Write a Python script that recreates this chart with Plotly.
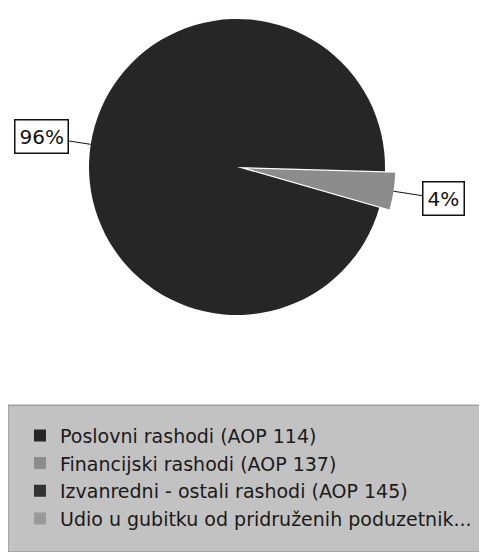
import math
import plotly.graph_objects as go

# expense categories (legend order) and their shares
labels = [
    "Poslovni rashodi (AOP 114)",
    "Financijski rashodi (AOP 137)",
    "Izvanredni - ostali rashodi (AOP 145)",
    "Udio u gubitku od pridruženih poduzetnik...",
]
shares = [96, 4, 0, 0]

SLICE_COLORS = ["#262626", "#8c8c8c", "#333333", "#9a9a9a"]
PULLS = [0, 0.07, 0, 0]
LEGEND_BG = "#c2c2c2"
FONT = "DejaVu Sans, Verdana, sans-serif"

W, H = 479, 544
ROTATION = 106          # degrees clockwise from 12 o'clock
PIE_CX, PIE_CY, PIE_R = 229, 159, 148   # pixel geometry of the pie
half = PIE_R * (1 + max(PULLS))


def clamp(v):
    return min(1.0, max(0.0, v))


fig = go.Figure(go.Pie(
    labels=labels,
    values=shares,
    sort=False,
    direction="clockwise",
    rotation=ROTATION,
    pull=PULLS,
    marker=dict(colors=SLICE_COLORS, line=dict(width=0)),
    textinfo="none",
    domain=dict(
        x=[clamp((PIE_CX - half) / W), clamp((PIE_CX + half) / W)],
        y=[clamp(1 - (PIE_CY + half) / H), clamp(1 - (PIE_CY - half) / H)],
    ),
    hoverinfo="label+percent",
))

# boxed percentage labels with leader lines, placed from the slice angles
total = sum(shares)
start = ROTATION
for v, pull in zip(shares, PULLS):
    if v <= 0:
        continue
    sweep = 360 * v / total
    mid = start + sweep / 2
    start += sweep
    ang = math.radians(90 - mid)
    rr = PIE_R * (1 + pull)
    ex = PIE_CX + rr * math.cos(ang)
    ey = PIE_CY - rr * math.sin(ang)
    off = PIE_R * 0.34
    fig.add_annotation(
        x=ex / W, y=1 - ey / H, xref="paper", yref="paper",
        text=f"{round(100 * v / total)}%",
        showarrow=True, arrowhead=0, arrowwidth=1, arrowcolor="#111111",
        ax=off * math.cos(ang), ay=-off * math.sin(ang), standoff=0,
        font=dict(family=FONT, size=20, color="#111111"),
        bordercolor="#111111", borderwidth=1.5, borderpad=4,
        bgcolor="white",
    )

# grey legend panel running to the right edge
fig.add_shape(
    type="rect", xref="paper", yref="paper",
    x0=0, x1=1.0, y0=0.0, y1=0.270,
    fillcolor=LEGEND_BG, line=dict(color="#8a8a8a", width=1),
    layer="below",
)

fig.update_layout(
    width=W, height=H,
    margin=dict(l=0, r=0, t=0, b=0),
    paper_bgcolor="white",
    plot_bgcolor="white",
    font=dict(family=FONT, size=19, color="#1a1a1a"),
    showlegend=True,
    legend=dict(
        x=0.025, y=0.249, xanchor="left", yanchor="top",
        bgcolor="rgba(0,0,0,0)",
        font=dict(family=FONT, size=19, color="#1a1a1a"),
        traceorder="normal",
    ),
)

fig.write_html("out.html")
